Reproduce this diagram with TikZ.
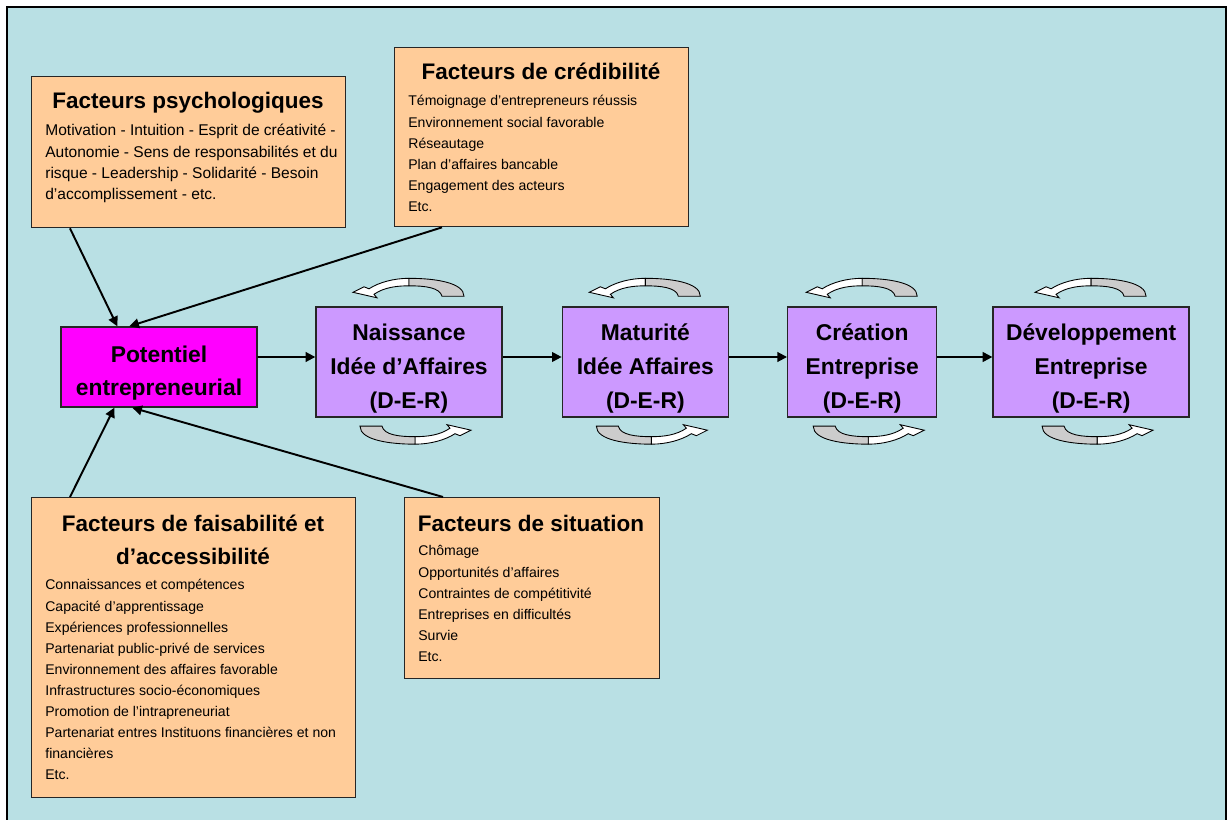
\documentclass[tikz,border=0pt]{standalone}
\usepackage{fontspec}
\setmainfont{Liberation Sans}
\usepackage{xcolor}
\usetikzlibrary{arrows.meta,positioning}
\definecolor{bgcyan}{RGB}{185,224,228}
\definecolor{peach}{RGB}{255,204,153}
\definecolor{lilac}{RGB}{204,153,255}
\definecolor{pinkmag}{RGB}{255,0,255}
% lines hung from the first baseline
\newcommand{\toplines}[2]{\begin{tabular}[t]{@{}#1@{}}#2\end{tabular}}
% centred lines, lowered a little inside their box
\newcommand{\boxlines}[2]{\raisebox{-#1}[0pt][0pt]{\begin{tabular}{@{}c@{}}#2\end{tabular}}}

\begin{document}
\begin{tikzpicture}[x=0.02cm,y=-0.02cm,>={Triangle[length=5.5pt,width=5.5pt]},
  fact/.style={draw=black!85,fill=peach,line width=0.8pt,anchor=north west,inner sep=0pt},
  ftitle/.style={font=\bfseries\fontsize{12.8pt}{18.7pt}\selectfont,anchor=base,inner sep=0pt},
  fbody/.style={font=\fontsize{8pt}{11.96pt}\selectfont,anchor=base west,inner sep=0pt},
  phase/.style={draw=black!85,fill=lilac,line width=0.8pt,minimum height=2.2cm,inner sep=2pt,font=\bfseries\fontsize{13pt}{19.3pt}\selectfont},
  flow/.style={->,line width=1.1pt},
  cyc/.pic={
    \draw[line width=0.5pt,fill=white] (0,-9) .. controls (-15,-9) and (-30,-5) .. (-40,1.5) -- (-45,-0.5) -- (-56,5) -- (-32,10.5) -- (-35,7) .. controls (-25,0) and (-12,-1.5) .. (0,-1.5) -- cycle;
    \draw[line width=0.5pt,fill=gray!40] (0,-9) .. controls (25,-9) and (55,-5) .. (55,9) -- (33,9) .. controls (31,0) and (15,-1.5) .. (0,-1.5) -- cycle;
  }]
\useasboundingbox (0,0) rectangle (1228,820);
\draw[fill=bgcyan,line width=0.9pt] (7,7) rectangle (1226,830);
% factor boxes
\node[fact,minimum width=6.28cm,minimum height=3.02cm] (psy) at (31,76) {};
\node[ftitle] (psyT) at (188,109) {Facteurs psychologiques};
\node[fbody,font=\fontsize{8.85pt}{11.96pt}\selectfont] (psyB) at (45,136) {\toplines{l}{Motivation - Intuition - Esprit de créativité -\\
  Autonomie - Sens de responsabilités et du\\
  risque - Leadership - Solidarité - Besoin\\
  d’accomplissement - etc.}};
\node[fact,minimum width=5.88cm,minimum height=3.58cm] (cred) at (394,47) {};
\node[ftitle] (credT) at (541,80) {Facteurs de crédibilité};
\node[fbody] (credB) at (408,106) {\toplines{l}{Témoignage d’entrepreneurs réussis\\
  Environnement social favorable\\
  Réseautage\\
  Plan d’affaires bancable\\
  Engagement des acteurs\\
  Etc.}};
\node[fact,minimum width=6.48cm,minimum height=6.0cm] (fais) at (31,497) {};
\node[ftitle] (faisT) at (193,532) {\toplines{c}{Facteurs de faisabilité et\\ d’accessibilité}};
\node[fbody] (faisB) at (45,590) {\toplines{l}{Connaissances et compétences\\
  Capacité d’apprentissage\\
  Expériences professionnelles\\
  Partenariat public-privé de services\\
  Environnement des affaires favorable\\
  Infrastructures socio-économiques\\
  Promotion de l’intrapreneuriat\\
  Partenariat entres Instituons financières et non\\
  financières\\
  Etc.}};
\node[fact,minimum width=5.1cm,minimum height=3.62cm] (sit) at (404,497) {};
\node[ftitle] (sitT) at (531,532) {Facteurs de situation};
\node[fbody] (sitB) at (418,556) {\toplines{l}{Chômage\\
  Opportunités d’affaires\\
  Contraintes de compétitivité\\
  Entreprises en difficultés\\
  Survie\\
  Etc.}};
% phases
\node[phase,fill=pinkmag,minimum width=3.92cm,minimum height=1.6cm,font=\bfseries\fontsize{13pt}{18.7pt}\selectfont] (pot) at (159,367) {\boxlines{6.2pt}{Potentiel\\ entrepreneurial}};
\node[phase,minimum width=3.72cm] (nai) at (409,362) {\boxlines{6.2pt}{Naissance\\ Idée d’Affaires\\ (D-E-R)}};
\node[phase,minimum width=3.32cm,right=1.18cm of nai] (mat) {\boxlines{6.2pt}{Maturité\\ Idée Affaires\\ (D-E-R)}};
\node[phase,minimum width=2.98cm,right=1.16cm of mat] (cre) {\boxlines{6.2pt}{Création\\ Entreprise\\ (D-E-R)}};
\node[phase,minimum width=3.92cm,right=1.1cm of cre] (dev) {\boxlines{6.2pt}{Développement\\ Entreprise\\ (D-E-R)}};
% connectors
\draw[flow] ([xshift=0.78cm]psy.south west) -- ([xshift=1.14cm]pot.north west);
\draw[flow] ([xshift=0.96cm]cred.south west) -- ([xshift=1.38cm]pot.north west);
\draw[flow] ([xshift=0.78cm]fais.north west) -- ([xshift=1.08cm]pot.south west);
\draw[flow] ([xshift=0.78cm]sit.north west) -- ([xshift=1.44cm]pot.south west);
\draw[flow] ([yshift=2mm]pot.east) -- ([yshift=1mm]nai.west);
\foreach \a/\b in {nai/mat,mat/cre,cre/dev}{\draw[flow] ([yshift=1mm]\a.east) -- ([yshift=1mm]\b.west);}
\foreach \n in {nai,mat,cre,dev}{
  \pic at ([yshift=0.38cm]\n.north) {cyc};
  \pic[rotate=180] at ([xshift=0.12cm,yshift=-0.35cm]\n.south) {cyc};}
\end{tikzpicture}
\end{document}
